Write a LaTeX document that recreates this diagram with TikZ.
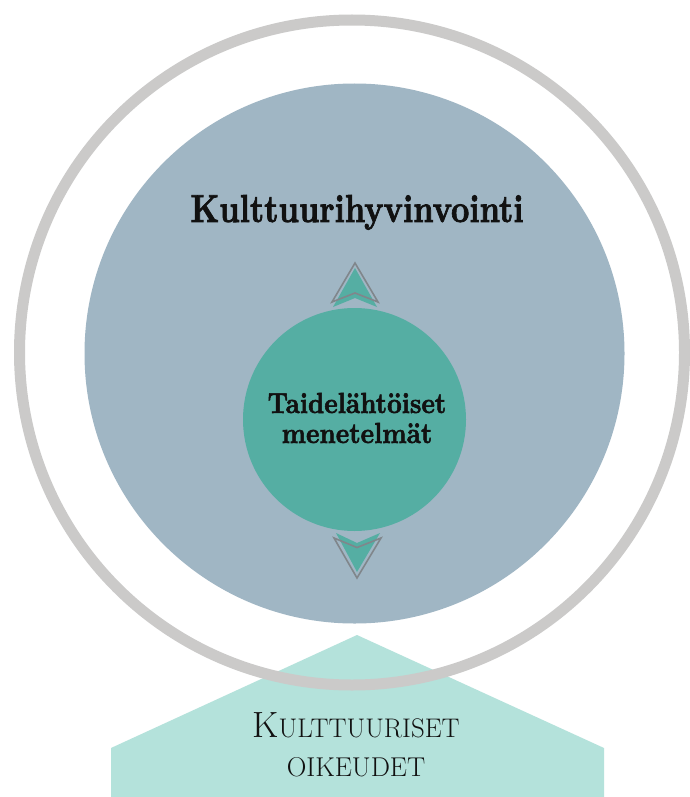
\documentclass[tikz,border=0pt]{standalone}
\usepackage{graphicx}
\usepackage{fontspec}
\newfontfamily\heavyfont[FakeBold=2]{lmroman10-bold.otf}
\definecolor{ringgray}{HTML}{CBCAC9}
\definecolor{bluegray}{HTML}{A0B6C4}
\definecolor{greenc}{HTML}{55AEA3}
\definecolor{lightteal}{HTML}{B4E2DB}
\definecolor{arrowgray}{HTML}{80868B}
\definecolor{ink}{HTML}{111111}
\tikzset{
  ringstyle/.style={circle, draw=ringgray, line width=11pt, minimum size=665pt, inner sep=0pt},
  bigcircle/.style={circle, fill=bluegray, minimum size=540pt, inner sep=0pt},
  smallcircle/.style={circle, fill=greenc, minimum size=223pt, inner sep=0pt},
  arrowfill/.style={fill=greenc},
  arrowline/.style={draw=arrowgray, line width=1.6pt, line join=miter},
  txt/.style={anchor=base, inner sep=0pt, text=ink},
}
\begin{document}
\begin{tikzpicture}[x=1pt,y=-1pt]
\useasboundingbox (0,0) rectangle (690,797);
\fill[white] (0,0) rectangle (690,797);
% base pentagon
\fill[lightteal] (357,635) -- (604,748) -- (604,797) -- (111,797) -- (111,748) -- cycle;
% circles
\node[ringstyle] (ring) at (352,352.5) {};
\node[bigcircle] (outer) at (354.5,353.5) {};
\node[smallcircle] (inner) at (354.5,419.5) {};
% up arrow
\fill[arrowfill] (355,268) -- (377,307) -- (355,298) -- (333,307) -- cycle;
\draw[arrowline] (355,263) -- (378,302) -- (355,293) -- (332,302) -- cycle;
% down arrow
\fill[arrowfill] (336,533) -- (357,543) -- (380,533) -- (357,572) -- cycle;
\draw[arrowline] (334,538) -- (357,547.5) -- (381,538) -- (357,578) -- cycle;
% texts
\node[txt] (title) at (357,222) {\scalebox{0.82}[1]{\fontsize{39}{42}\heavyfont Kulttuurihyvinvointi}};
\node[txt] (methods1) at (357,413) {\scalebox{0.88}[1]{\fontsize{29}{31}\heavyfont Taidelähtöiset}};
\node[txt] (methods2) at (357,443) {\scalebox{0.88}[1]{\fontsize{29}{31}\heavyfont menetelmät}};
\node[txt] (rights1) at (356,737) {{\fontsize{36.5}{38}\selectfont K}{\fontsize{26.9}{28}\selectfont ULTTUURISET}};
\node[txt] (rights2) at (356,776) {\fontsize{27.2}{28}\selectfont OIKEUDET};
\end{tikzpicture}
\end{document}
